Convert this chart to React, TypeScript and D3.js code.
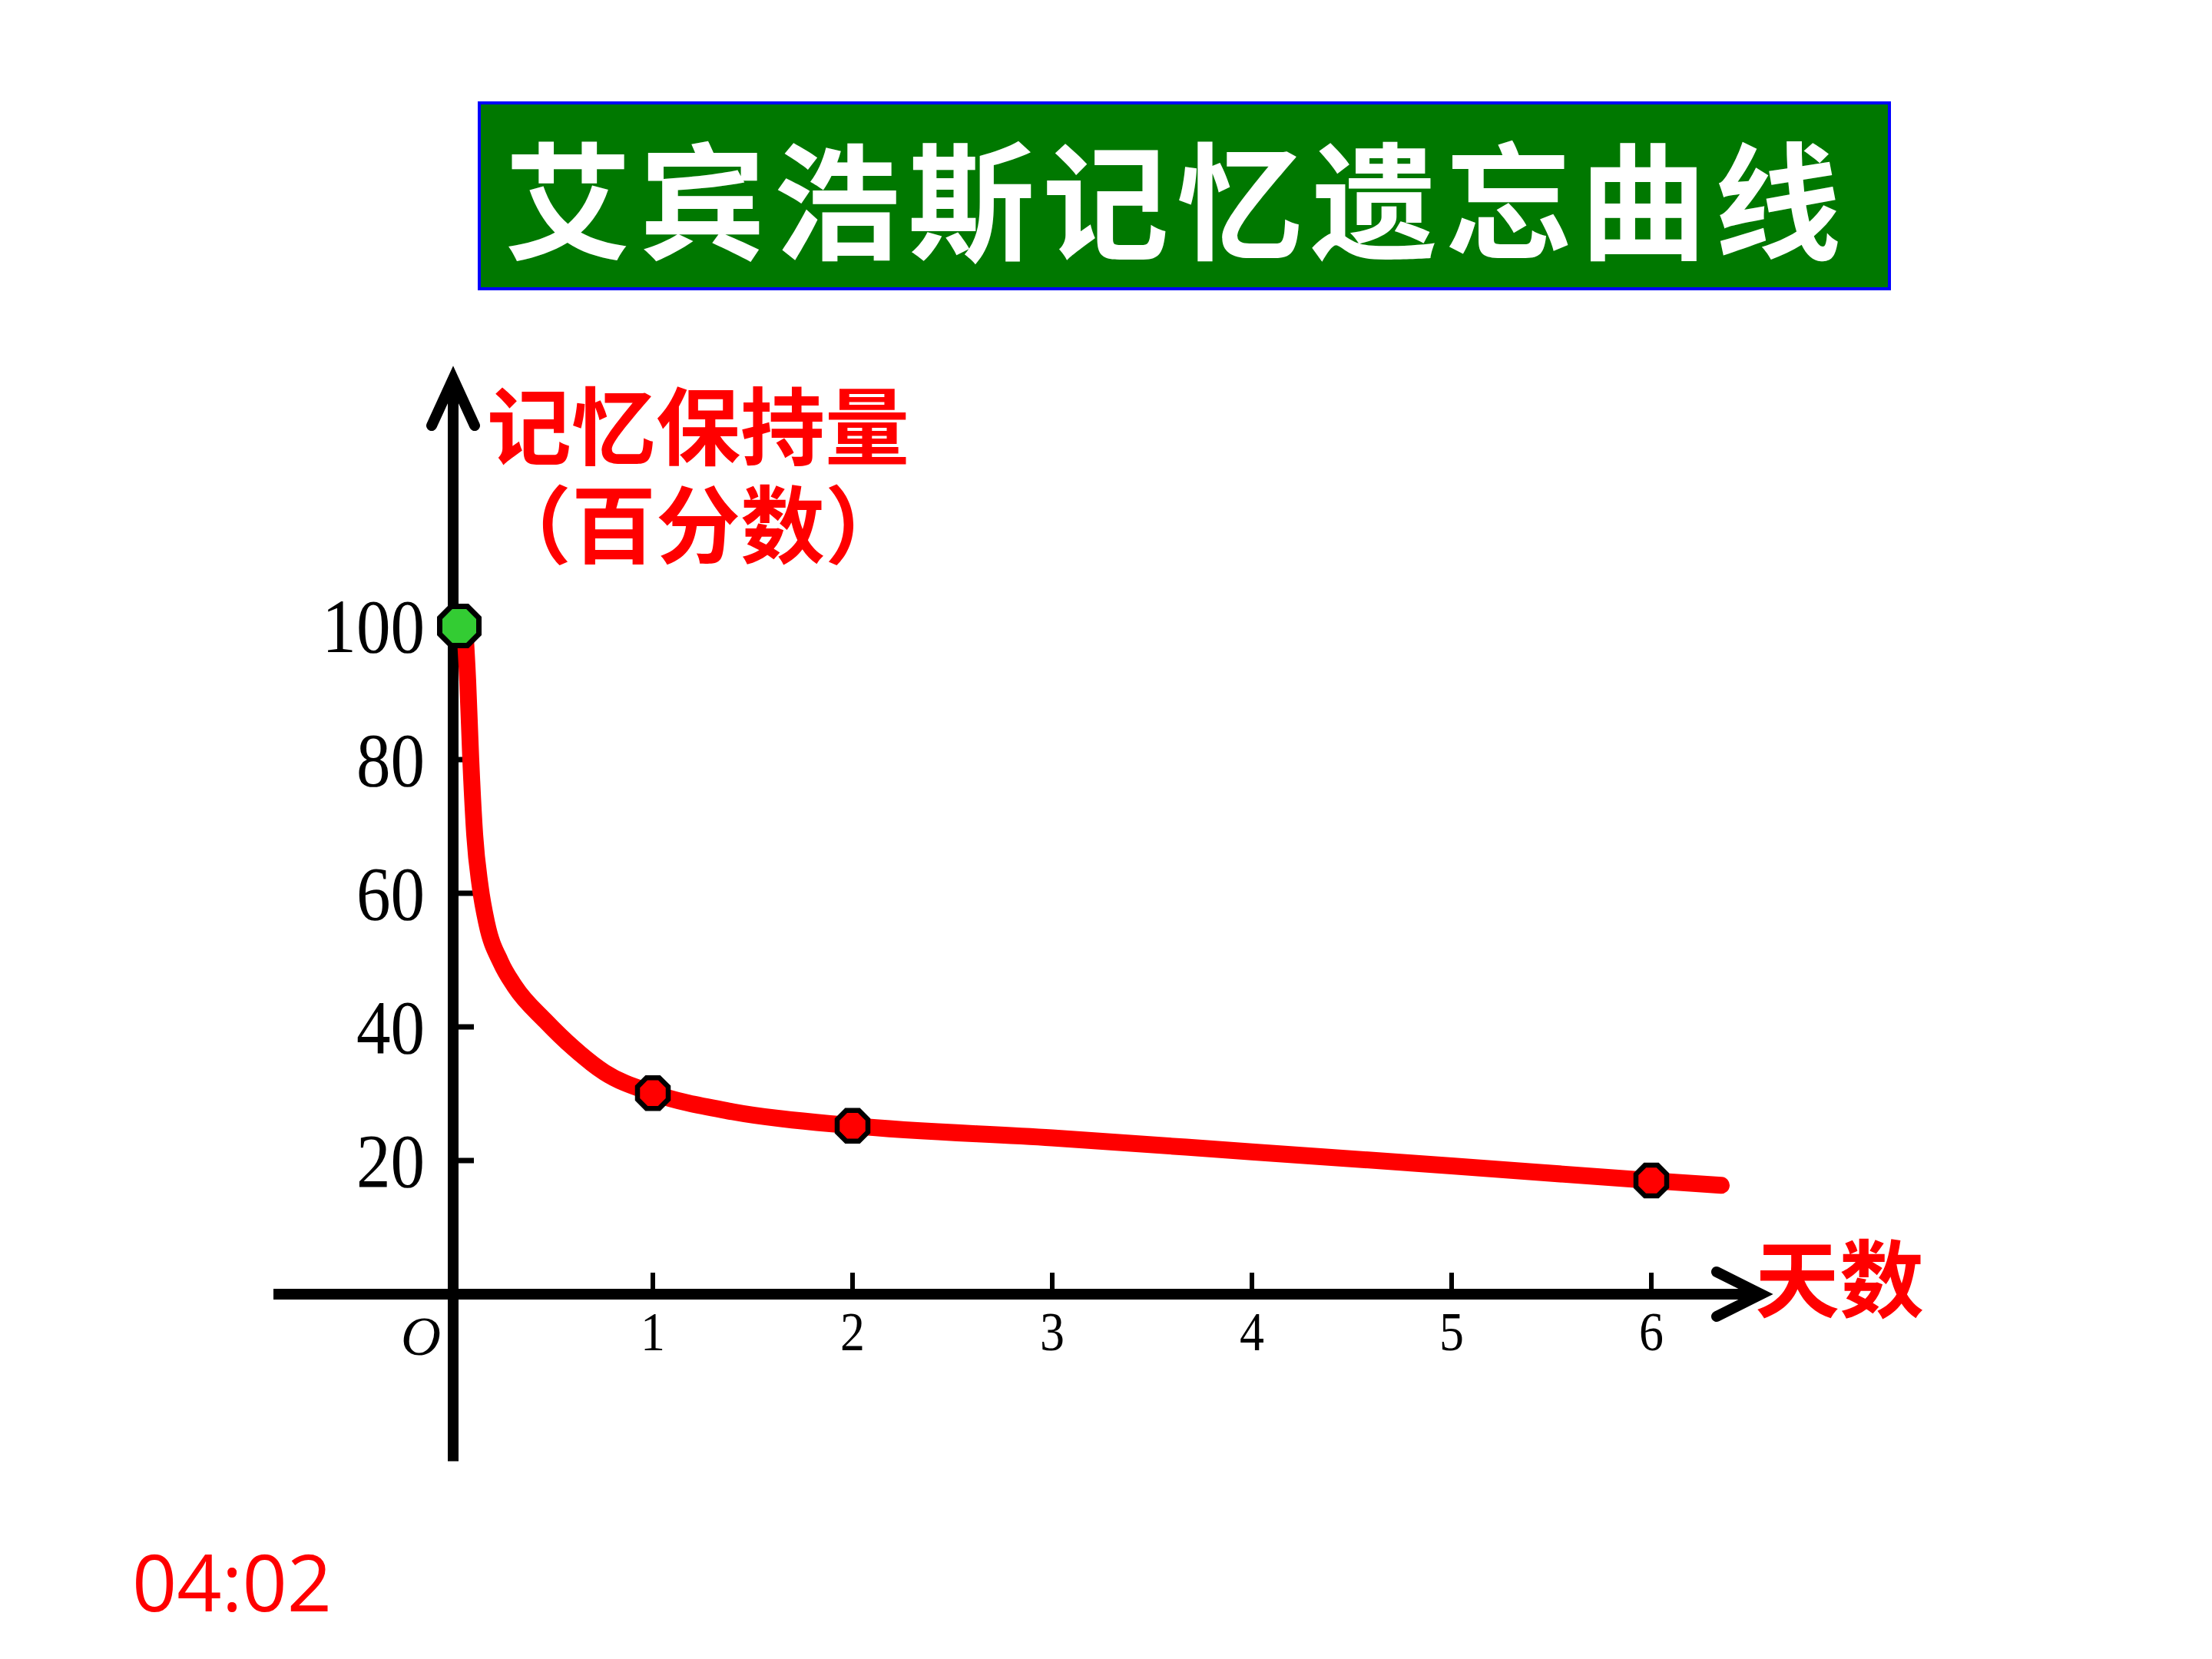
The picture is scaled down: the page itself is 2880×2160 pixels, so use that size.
import React from "react";
import * as d3 from "d3";

// ---- data ----
const chartTitle = "艾宾浩斯记忆遗忘曲线";
const yAxisTitleLines = ["记忆保持量", "（百分数）"];
const xAxisTitle = "天数";
const originLabel = "O";
const timerText = "04:02";

const xTickValues = [1, 2, 3, 4, 5, 6];
const yTickValues = [20, 40, 60, 80, 100];

// sampled along the drawn red curve (days, retention %)
const curveDays = [0.058, 0.073, 0.088, 0.108, 0.135, 0.169, 0.238, 0.308, 0.462, 0.604, 0.758, 1, 1.4, 2, 3, 4, 5, 6, 6.35];
const curveRetention = [100, 91.7, 80.2, 68.7, 61.1, 55.4, 49.7, 46.1, 40.9, 36.8, 33.2, 30.1, 27.3, 25.2, 23.4, 21.3, 19.2, 17, 16.3];

// highlighted points
const markerDays = [0, 1, 2, 6];
const markerRetention = [100, 30.1, 25.2, 17];
const markerKinds = ["start", "day", "day", "day"];

// axis extents in data units
const xAxisExtent = [-0.9, 6.55];
const yAxisExtent = [-25, 137];

export default function App() {
  React.useEffect(() => {
    document.body.style.margin = "0";
  }, []);

  const W = 2880;
  const H = 2160;
  const x = d3.scaleLinear().domain([0, 6]).range([590, 2150]);
  const y = d3.scaleLinear().domain([0, 100]).range([1685, 815]);

  const curvePts: [number, number][] = curveDays.map((d, i) => [d, curveRetention[i]]);
  const line = d3
    .line<[number, number]>()
    .x((d) => x(d[0]))
    .y((d) => y(d[1]))
    .curve(d3.curveMonotoneX);

  const octagon = (apothem: number) => {
    const r = apothem / Math.cos(Math.PI / 8);
    const pts: [number, number][] = d3.range(8).map((k) => {
      const a = Math.PI / 8 + (k * Math.PI) / 4;
      return [r * Math.cos(a), r * Math.sin(a)];
    });
    return d3.line().curve(d3.curveLinearClosed)(pts) as string;
  };

  const axisStroke = 14;
  const x0 = x(0);
  const y0 = y(0);
  const yTop = y(yAxisExtent[1]);
  const yBottom = y(yAxisExtent[0]);
  const xLeft = x(xAxisExtent[0]);
  const xRight = x(xAxisExtent[1]);

  const serif = "'Liberation Serif', 'DejaVu Serif', serif";
  const cjk = "'Noto Sans CJK SC', 'Noto Sans', sans-serif";

  return (
    <svg
      width={W}
      height={H}
      viewBox={`0 0 ${W} ${H}`}
      style={{ position: "absolute", left: 0, top: 0, display: "block", background: "#ffffff" }}
    >
      <rect x={0} y={0} width={W} height={H} fill="#ffffff" />

      {/* title box */}
      <rect x={624} y={134} width={1836} height={242} fill="#007800" stroke="#0000ff" strokeWidth={4} />
      <text
        x={657}
        y={325}
        fill="#ffffff"
        fontFamily={cjk}
        fontWeight={700}
        fontSize={165}
        letterSpacing={10}
      >
        {chartTitle}
      </text>

      {/* y axis */}
      <line x1={x0} y1={yBottom} x2={x0} y2={yTop + 4} stroke="#000" strokeWidth={axisStroke} />
      <polyline
        points={`${x0 - 28},${yTop + 61} ${x0},${yTop} ${x0 + 28},${yTop + 61}`}
        fill="none"
        stroke="#000"
        strokeWidth={axisStroke}
        strokeLinecap="round"
        strokeLinejoin="miter"
      />
      {/* x axis */}
      <line x1={xLeft} y1={y0} x2={xRight - 4} y2={y0} stroke="#000" strokeWidth={axisStroke} />
      <polyline
        points={`${xRight - 58},${y0 - 29} ${xRight},${y0} ${xRight - 58},${y0 + 29}`}
        fill="none"
        stroke="#000"
        strokeWidth={axisStroke}
        strokeLinecap="round"
        strokeLinejoin="miter"
      />

      {/* y ticks */}
      {yTickValues.map((v) => (
        <g key={"yt" + v}>
          <line x1={x0} x2={x0 + 27} y1={y(v)} y2={y(v)} stroke="#000" strokeWidth={7} />
          <text
            transform={`translate(553,${y(v) + 34}) scale(0.9,1)`}
            textAnchor="end"
            fontFamily={serif}
            fontSize={99}
            fill="#000"
          >
            {String(v)}
          </text>
        </g>
      ))}

      {/* x ticks */}
      {xTickValues.map((v) => (
        <g key={"xt" + v}>
          <line x1={x(v)} x2={x(v)} y1={y0} y2={y0 - 28} stroke="#000" strokeWidth={6} />
          <text
            transform={`translate(${x(v)},${y0 + 73}) scale(0.9,1)`}
            textAnchor="middle"
            fontFamily={serif}
            fontSize={71}
            fill="#000"
          >
            {String(v)}
          </text>
        </g>
      ))}
      <text x={548} y={1764} textAnchor="middle" fontFamily={serif} fontStyle="italic" fontSize={72} fill="#000">
        {originLabel}
      </text>

      {/* axis titles */}
      {yAxisTitleLines.map((t, i) => (
        <text
          key={"yat" + i}
          x={634}
          y={597 + i * 128}
          fill="#ff0000"
          fontFamily={cjk}
          fontWeight={700}
          fontSize={110}
        >
          {t}
        </text>
      ))}
      <text x={2285} y={1707} fill="#ff0000" fontFamily={cjk} fontWeight={700} fontSize={110}>
        {xAxisTitle}
      </text>

      {/* curve */}
      <path
        d={line(curvePts) as string}
        fill="none"
        stroke="#ff0000"
        strokeWidth={22}
        strokeLinecap="round"
        strokeLinejoin="round"
      />

      {/* markers */}
      {markerDays.map((d, i) => {
        const start = markerKinds[i] === "start";
        return (
          <path
            key={"m" + i}
            d={octagon(start ? 25.5 : 20)}
            transform={`translate(${x(d) + (start ? 8 : 0)},${y(markerRetention[i])})`}
            fill={start ? "#33cc33" : "#ff0000"}
            stroke="#000"
            strokeWidth={start ? 7 : 6.5}
          />
        );
      })}

      {/* timer */}
      <text x={172} y={2098} fill="#ff0000" fontFamily="'Open Sans', 'Noto Sans', sans-serif" fontSize={102}>
        {timerText}
      </text>
    </svg>
  );
}
